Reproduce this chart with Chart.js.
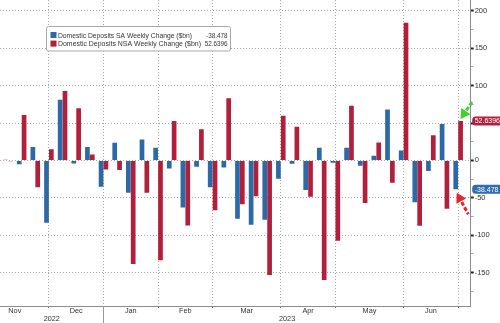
<!DOCTYPE html>
<html>
<head>
<meta charset="utf-8">
<script src="https://cdn.jsdelivr.net/npm/chart.js@4.4.1/dist/chart.umd.min.js"></script>
<style>
  html, body { margin: 0; padding: 0; background: #ffffff; }
  #wrap { width: 500px; height: 323px; position: relative; }
  canvas { display: block; }
</style>
</head>
<body>
<div id="wrap"><canvas id="c" width="500" height="323"></canvas></div>
<script>
// ---------- data ----------
const weeks = ['2022-11-09','2022-11-16','2022-11-23','2022-11-30','2022-12-07','2022-12-14','2022-12-21','2022-12-28',
  '2023-01-04','2023-01-11','2023-01-18','2023-01-25','2023-02-01','2023-02-08','2023-02-15','2023-02-22',
  '2023-03-01','2023-03-08','2023-03-15','2023-03-22','2023-03-29','2023-04-05','2023-04-12','2023-04-19','2023-04-26',
  '2023-05-03','2023-05-10','2023-05-17','2023-05-24','2023-05-31','2023-06-07','2023-06-14','2023-06-21','2023-06-28'];

const saChange = [1, -5, 18, -83.5, 81, -4, 18, -35.3, 23.5, -43.3, 28, 17, -10.7, -63, -8.6, -36, -9.4, -78, -86, -79.5,
  -24.6, -4.5, -39.7, 17, -3.2, 17, -7.2, 6.2, 68, 13.4, -56, -14.3, 48.6, -38.478];

const nsaChange = [-1, 60.6, -36, 15, 92.7, 69.6, 8, -12, -13, -138.7, -43.3, -133.4, 52.6, -87, 41.5, -66.5, 83, -58.5, -47.8, -153.4,
  59.7, 45, -48.7, -160, -107.5, 73, -57, 24, -30, 184, -87.5, 33.8, -64.7, 52.6396];

const seriesNames = ['Domestic Deposits SA Weekly Change ($bn)', 'Domestic Deposits NSA Weekly Change ($bn)'];
const monthLabels = ['Nov', 'Dec', 'Jan', 'Feb', 'Mar', 'Apr', 'May', 'Jun'];
const yearLabels = ['2022', '2023'];
const yTickValues = [-175, -150, -125, -100, -75, -50, -25, 0, 25, 50, 75, 100, 125, 150, 175, 200];

// ---------- derived axis helpers ----------
const FONT = '"Liberation Sans", Arial, sans-serif';
const BLUE = '#2c69a6';
const RED = '#b11f3a';
const X_MIN = -0.587, X_MAX = 33.92;
const Y_MIN = -194.7, Y_MAX = 214.5;
const DAY = 864e5;
const parseDate = s => { const [y, m, d] = s.split('-').map(Number); return new Date(Date.UTC(y, m - 1, d)); };

const monthEnds = [];
weeks.forEach((w, i) => {
  const d = parseDate(w);
  const n = new Date(d.getTime() + 7 * DAY);
  if (n.getUTCMonth() !== d.getUTCMonth()) monthEnds.push(i);
});
let back = 1;
const d0 = parseDate(weeks[0]);
while (new Date(d0.getTime() - 7 * back * DAY).getUTCMonth() === d0.getUTCMonth()) back++;
const bounds = [-back, ...monthEnds];
const monthMid = monthLabels.map((_, i) => (bounds[i] + bounds[i + 1]) / 2);
const yearSplit = monthEnds.find(i => parseDate(weeks[i]).getUTCMonth() === 11);
const yearMid = [(X_MIN + yearSplit) / 2, (yearSplit + X_MAX) / 2];

const saPoints = saChange.map((v, i) => ({ x: i, y: v }));
const nsaPoints = nsaChange.map((v, i) => ({ x: i, y: v }));

// ---------- decorations ----------
function drawArrow(ctx, tx, ty, dx, dy, color) {
  const len = Math.hypot(dx, dy);
  const ux = dx / len, uy = dy / len;
  const hl = 9.5, hw = 5.5;
  const bx = tx + ux * hl, by = ty + uy * hl;
  ctx.fillStyle = color;
  ctx.beginPath();
  ctx.moveTo(tx, ty);
  ctx.lineTo(bx - uy * hw, by + ux * hw);
  ctx.lineTo(bx + uy * hw, by - ux * hw);
  ctx.closePath();
  ctx.fill();
  ctx.strokeStyle = color;
  ctx.lineWidth = 3;
  ctx.setLineDash([4, 2]);
  ctx.beginPath();
  ctx.moveTo(bx + ux, by + uy);
  ctx.lineTo(tx + dx, ty + dy);
  ctx.stroke();
  ctx.setLineDash([]);
}

function fitText(ctx, text, x, y, maxW) {
  const w = ctx.measureText(text).width;
  const sx = Math.min(1, maxW / w);
  ctx.save();
  ctx.translate(x, y);
  ctx.scale(sx, 1);
  ctx.fillText(text, 0, 0);
  ctx.restore();
}

const decor = {
  id: 'decor',
  afterDraw(chart) {
    const { ctx, chartArea, scales } = chart;
    const xs = scales.x, ys = scales.y;
    ctx.save();

    // year separator below the axis
    const sx = Math.round(xs.getPixelForValue(yearSplit)) + 0.5;
    ctx.strokeStyle = '#9a9a9a';
    ctx.lineWidth = 1;
    ctx.beginPath();
    ctx.moveTo(sx, chartArea.bottom);
    ctx.lineTo(sx, chart.height);
    ctx.stroke();

    // legend box
    const last = weeks.length - 1;
    const lastVals = [saChange[last], nsaChange[last]];
    const colors = [BLUE, RED];
    const lx = 46.5, ly = 26.5, lw = 184, lh = 24.5;
    ctx.fillStyle = '#ffffff';
    ctx.strokeStyle = '#a8a8a8';
    ctx.beginPath();
    if (ctx.roundRect) ctx.roundRect(lx, ly, lw, lh, 2); else ctx.rect(lx, ly, lw, lh);
    ctx.fill();
    ctx.stroke();
    ctx.font = '7.6px ' + FONT;
    ctx.textBaseline = 'middle';
    const nameW = [134, 143];
    [35, 43.6].forEach((cy, i) => {
      ctx.fillStyle = colors[i];
      ctx.fillRect(50.5, cy - 3, 6, 6);
      ctx.fillStyle = '#333333';
      ctx.textAlign = 'left';
      fitText(ctx, seriesNames[i], 58, cy + 0.5, nameW[i]);
      ctx.textAlign = 'right';
      ctx.save();
      ctx.translate(227.5, cy + 0.5);
      ctx.scale(0.83, 1);
      ctx.fillText(String(lastVals[i]), 0, 0);
      ctx.restore();
    });

    // value tags on the right axis
    ctx.textAlign = 'left';
    ctx.font = '7px ' + FONT;
    [[lastVals[1], '#b3213d'], [lastVals[0], '#2f6fae']].forEach(([v, c]) => {
      const py = ys.getPixelForValue(v);
      const x0 = chartArea.right + 1.5;
      ctx.fillStyle = c;
      ctx.beginPath();
      if (ctx.roundRect) ctx.roundRect(x0, py - 4.5, chart.width - x0 + 4, 9, 3.5); else ctx.rect(x0, py - 4.5, chart.width - x0, 9);
      ctx.fill();
      ctx.fillStyle = '#ffffff';
      ctx.fillText(String(v), x0 + 2.5, py + 0.5);
    });

    // arrows
    const saBar = chart.getDatasetMeta(0).data[last];
    const nsaBar = chart.getDatasetMeta(1).data[last];
    drawArrow(ctx, nsaBar.x, nsaBar.y - 2, 12, -18, '#3fd12c');
    drawArrow(ctx, saBar.x + 1, saBar.y + 3.5, 11.5, 21.5, '#e2262d');

    ctx.restore();
  }
};

// ---------- chart ----------
const gridColor = '#a6a6a6';
const axisColor = '#8c8c8c';
const DOTS = [1, 2];

new Chart(document.getElementById('c'), {
  type: 'bar',
  data: {
    datasets: [
      { label: seriesNames[0], data: saPoints, backgroundColor: BLUE, borderWidth: 0, barPercentage: 0.97, categoryPercentage: 0.71 },
      { label: seriesNames[1], data: nsaPoints, backgroundColor: RED, borderWidth: 0, barPercentage: 0.97, categoryPercentage: 0.71 }
    ]
  },
  options: {
    responsive: false,
    animation: false,
    devicePixelRatio: 1,
    layout: { padding: 0, autoPadding: false },
    plugins: { legend: { display: false }, tooltip: { enabled: false } },
    scales: {
      x: {
        type: 'linear', position: 'bottom', weight: 0,
        min: X_MIN, max: X_MAX, offset: false,
        afterBuildTicks: s => { s.ticks = monthEnds.map(v => ({ value: v })); },
        ticks: { display: false, autoSkip: false },
        grid: { display: true, drawOnChartArea: true, offset: false, color: gridColor, lineWidth: 1, tickColor: '#777', tickLength: 2, drawTicks: true },
        border: { display: true, color: axisColor, width: 1, dash: DOTS },
        afterFit: s => { s.height = 1; s.paddingLeft = 0; s.paddingRight = 0; }
      },
      xm: {
        type: 'linear', position: 'bottom', weight: 1,
        min: X_MIN, max: X_MAX, offset: false,
        afterBuildTicks: s => { s.ticks = monthMid.map(v => ({ value: v })); },
        ticks: { autoSkip: false, maxRotation: 0, padding: 0, color: '#333',
                 font: { family: FONT, size: 7.3 }, callback: (v, i) => monthLabels[i] },
        grid: { display: false, drawTicks: false, offset: false },
        border: { display: false },
        afterFit: s => { s.height = 8; s.paddingLeft = 0; s.paddingRight = 0; }
      },
      xy: {
        type: 'linear', position: 'bottom', weight: 2,
        min: X_MIN, max: X_MAX, offset: false,
        afterBuildTicks: s => { s.ticks = yearMid.map(v => ({ value: v })); },
        ticks: { autoSkip: false, maxRotation: 0, padding: 0, color: '#333',
                 font: { family: FONT, size: 7.3 }, callback: (v, i) => yearLabels[i] },
        grid: { display: false, drawTicks: false, offset: false },
        border: { display: false },
        afterFit: s => { s.height = 8; s.paddingLeft = 0; s.paddingRight = 0; }
      },
      y: {
        type: 'linear', position: 'right',
        min: Y_MIN, max: Y_MAX,
        afterBuildTicks: s => { s.ticks = yTickValues.map(v => ({ value: v })); },
        ticks: { autoSkip: false, padding: 1, color: '#333', font: { family: FONT, size: 7.5 },
                 callback: v => (v % 50 === 0 ? String(v) : '') },
        grid: {
          display: true, drawOnChartArea: true,
          color: c => (c.tick && c.tick.value % 50 === 0) ? gridColor : 'rgba(0,0,0,0)',
          lineWidth: 1,
          tickColor: c => (c.tick && c.tick.value % 50 === 0) ? '#222' : '#aaa',
          tickWidth: c => (c.tick && c.tick.value % 50 === 0) ? 2 : 1,
          tickLength: 3, drawTicks: true
        },
        border: { display: true, color: axisColor, width: 1, dash: DOTS },
        afterFit: s => { s.width = 29.3; s.paddingTop = 0; s.paddingBottom = 0; }
      }
    }
  },
  plugins: [decor]
});
</script>
</body>
</html>
